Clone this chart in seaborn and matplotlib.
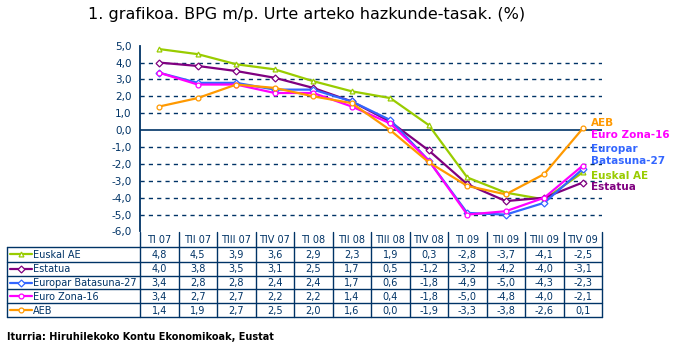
import matplotlib
matplotlib.use("Agg")
import matplotlib.pyplot as plt
import seaborn as sns
import pandas as pd

# datuak
quarters = ["TI 07", "TII 07", "TIII 07", "TIV 07", "TI 08", "TII 08",
            "TIII 08", "TIV 08", "TI 09", "TII 09", "TIII 09", "TIV 09"]
euskal_ae = [4.8, 4.5, 3.9, 3.6, 2.9, 2.3, 1.9, 0.3, -2.8, -3.7, -4.1, -2.5]
estatua = [4.0, 3.8, 3.5, 3.1, 2.5, 1.7, 0.5, -1.2, -3.2, -4.2, -4.0, -3.1]
europar_eb27 = [3.4, 2.8, 2.8, 2.4, 2.4, 1.7, 0.6, -1.8, -4.9, -5.0, -4.3, -2.3]
euro_zona16 = [3.4, 2.7, 2.7, 2.2, 2.2, 1.4, 0.4, -1.8, -5.0, -4.8, -4.0, -2.1]
aeb = [1.4, 1.9, 2.7, 2.5, 2.0, 1.6, 0.0, -1.9, -3.3, -3.8, -2.6, 0.1]

series_names = ["Euskal AE", "Estatua", "Europar Batasuna-27", "Euro Zona-16", "AEB"]
series_vals = [euskal_ae, estatua, europar_eb27, euro_zona16, aeb]
colors = ["#99CC00", "#800080", "#3366FF", "#FF00FF", "#FF9900"]
markers = ["^", "D", "D", "o", "o"]

# etiketak eskuinean (goitik behera)
right_labels = [("AEB", "#FF9900"), ("Euro Zona-16", "#FF00FF"), ("Europar", "#3366FF"),
                ("Batasuna-27", "#3366FF"), ("Euskal AE", "#99CC00"), ("Estatua", "#800080")]

navy = "#003366"
W, H = 697, 353

rows = []
for name, vals in zip(series_names, series_vals):
    for i, v in enumerate(vals):
        rows.append({"serie": name, "x": i, "y": v})
df = pd.DataFrame(rows)

sns.set_style("white")
plt.rcParams["font.family"] = ["DejaVu Sans"]

fig = plt.figure(figsize=(W / 100, H / 100), dpi=100)
fig.patch.set_facecolor("white")

# ardatz nagusia (pixeletan kalkulatua)
left, right, top, bottom = 140, 602, 45.7, 231.5
ax = fig.add_axes([left / W, 1 - bottom / H, (right - left) / W, (bottom - top) / H])

for name, col, mk in zip(series_names, colors, markers):
    sub = df[df.serie == name]
    sns.lineplot(data=sub, x="x", y="y", ax=ax, color=col, linewidth=1.6,
                 marker=mk, markersize=3.5, markerfacecolor="white",
                 markeredgecolor=col, markeredgewidth=0.9, zorder=3)

ax.set_xlim(-0.5, 11.5)
ax.set_ylim(-6, 5)
ax.set_yticks(range(-6, 6))
ax.set_yticklabels([f"{v},0" for v in range(-6, 6)], color=navy, fontsize=7.5)
ax.set_xticks([])
ax.set_xlabel("")
ax.set_ylabel("")
for v in range(-5, 5):
    if v == 0:
        ax.axhline(0, color=navy, linewidth=1.2, zorder=2)
    else:
        ax.axhline(v, color=navy, linewidth=1, linestyle=(0, (3, 3)), zorder=1)
for s in ["top", "right", "bottom"]:
    ax.spines[s].set_visible(False)
ax.spines["left"].set_color(navy)
ax.spines["left"].set_linewidth(1.3)
ax.tick_params(axis="y", length=0, pad=6)

# izenburua
fig.text(307 / W, 1 - 15 / H, "1. grafikoa. BPG m/p. Urte arteko hazkunde-tasak. (%)",
         ha="center", va="center", fontsize=11.5, color="black")

# eskuineko etiketak
label_y = [122.7, 135.3, 148.7, 161.3, 175.5, 186.7]
for (txt, col), yy in zip(right_labels, label_y):
    fig.text(591 / W, 1 - yy / H, txt, ha="left", va="center", fontsize=7.5,
             fontweight="bold", color=col)

# datu taula
tax = fig.add_axes([0, 0, 1, 1], facecolor="none")
tax.set_xlim(0, W)
tax.set_ylim(H, 0)
tax.axis("off")

col_w = (right - left) / 12
hdr_top, hdr_bot = 231.5, 247
row_lines = [247, 261.7, 275.7, 289.3, 303.3, 317]
lw = 1.0

# bertikalak
for i in range(13):
    xx = left + i * col_w
    tax.plot([xx, xx], [hdr_top, row_lines[-1]], color=navy, lw=lw)
tax.plot([7, 7], [row_lines[0], row_lines[-1]], color=navy, lw=lw)
# horizontalak
for yy in row_lines:
    tax.plot([7, right], [yy, yy], color=navy, lw=lw)

for i, q in enumerate(quarters):
    tax.text(left + (i + 0.5) * col_w, (hdr_top + hdr_bot) / 2 + 0.5, q,
             ha="center", va="center", fontsize=7, color=navy)

for r, (name, vals, col, mk) in enumerate(zip(series_names, series_vals, colors, markers)):
    yc = (row_lines[r] + row_lines[r + 1]) / 2
    tax.plot([10, 32], [yc, yc], color=col, lw=1.6)
    tax.plot([21], [yc], marker=mk, markersize=3.5, markerfacecolor="white",
             markeredgecolor=col, markeredgewidth=0.9)
    tax.text(33, yc + 0.5, name, ha="left", va="center", fontsize=7, color=navy)
    for i, v in enumerate(vals):
        tax.text(left + (i + 0.5) * col_w, yc + 0.5, f"{v:.1f}".replace(".", ","),
                 ha="center", va="center", fontsize=7, color=navy)

# iturria
fig.text(7 / W, 1 - 337 / H, "Iturria: Hiruhilekoko Kontu Ekonomikoak, Eustat",
         ha="left", va="center", fontsize=7, fontweight="bold", color="black")

fig.savefig("out.png", dpi=100, facecolor="white")
